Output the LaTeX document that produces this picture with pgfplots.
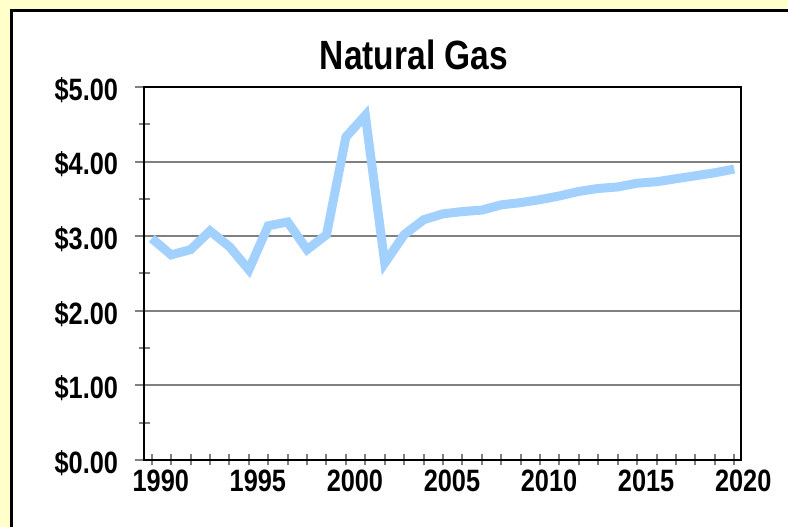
\documentclass[border=0pt]{standalone}
\usepackage{fontspec}
\setmainfont{Liberation Sans}[FakeStretch=0.82]
\usepackage{pgfplots}
\pgfplotsset{compat=1.18}
\definecolor{bgyellow}{HTML}{FFFFCC}
\definecolor{gasblue}{HTML}{A3D1FF}
\definecolor{gridgray}{HTML}{808080}

\begin{document}
\begin{tikzpicture}[x=1bp,y=1bp]
\clip (0,0) rectangle (788,527);
\fill[bgyellow] (0,0) rectangle (788,527);
\filldraw[fill=white,draw=black,line width=3bp] (11.5,-20) rectangle (810,516.5);
\node[font=\bfseries\fontsize{41}{41}\selectfont, anchor=base] at (414,457) {Natural Gas};
\begin{axis}[
  at={(144bp,67bp)}, anchor=south west,
  scale only axis, width=597bp, height=373bp,
  xmin=1989.6, xmax=2020.35, ymin=0, ymax=5,
  xtick={1990,1995,...,2020},
  minor xtick={1990,...,2020},
  ytick={0,1,...,5},
  minor ytick={0.5,1.5,...,4.5},
  xtick pos=bottom, ytick pos=left,
  yticklabels={\$0.00,\$1.00,\$2.00,\$3.00,\$4.00,\$5.00},
  xticklabels={1990,1995,2000,2005,2010,2015,2020},
  ticklabel style={font=\bfseries\fontsize{31}{31}\selectfont},
  xticklabel style={xshift=9bp, yshift=-1bp},
  yticklabel style={xshift=-17bp, yshift=-3bp},
  ymajorgrids,
  major grid style={gridgray, line width=2bp},
  tick align=center,
  major tick length=11bp, minor tick length=11bp,
  ytick style={/pgfplots/major tick length=18bp},
  tick style={gridgray, line width=2bp},
  axis line style={black, line width=2.5bp},
]
\addplot[gasblue, line width=9bp] coordinates {
  (1990,2.97) (1991,2.75) (1992,2.82) (1993,3.07) (1994,2.86)
  (1995,2.55) (1996,3.14) (1997,3.19) (1998,2.82) (1999,3.02)
  (2000,4.33) (2001,4.62) (2002,2.64) (2003,3.02) (2004,3.22)
  (2005,3.30) (2006,3.33) (2007,3.35) (2008,3.42) (2009,3.45)
  (2010,3.49) (2011,3.54) (2012,3.60) (2013,3.64) (2014,3.66)
  (2015,3.71) (2016,3.73) (2017,3.77) (2018,3.81) (2019,3.85)
  (2020,3.90)
};
\end{axis}
\end{tikzpicture}
\end{document}
